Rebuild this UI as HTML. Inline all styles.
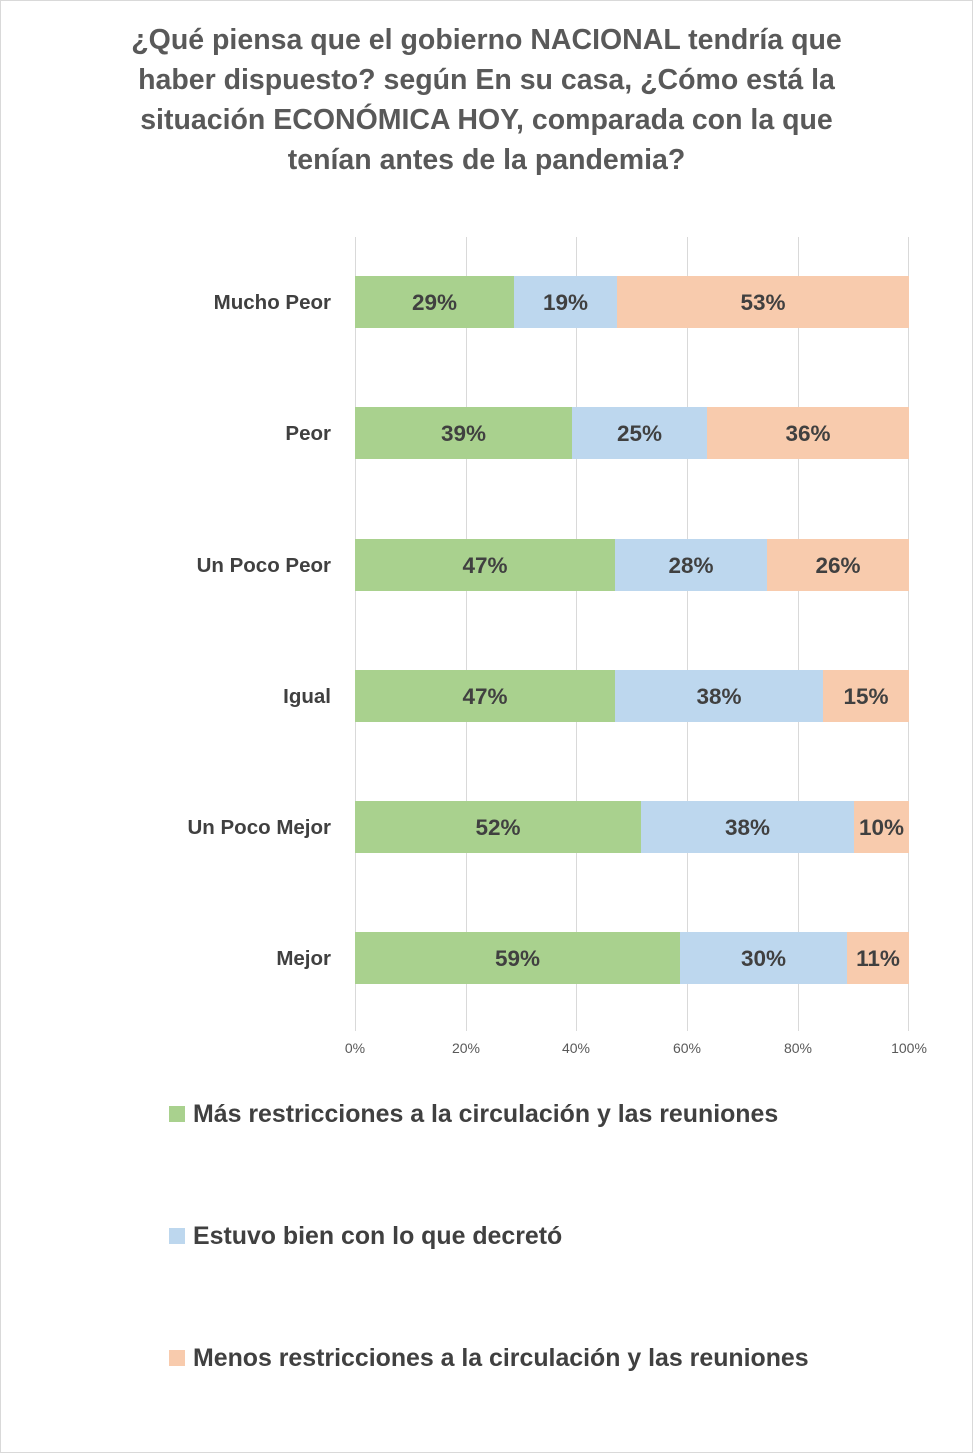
<!DOCTYPE html>
<html><head><meta charset="utf-8"><style>
body{margin:0;width:973px;height:1453px;background:#fff;position:relative;overflow:hidden;font-family:"Liberation Sans",sans-serif}
.frame{position:absolute;left:0;top:0;width:971px;height:1451px;border:1px solid #d9d9d9}
.t{position:absolute;left:0;width:973px;text-align:center;color:#595959;font-weight:bold;font-size:28.5px;line-height:40px;top:20px;white-space:nowrap}
.g{position:absolute;top:237px;height:794px;width:1px;background:#d9d9d9}
.tk{position:absolute;top:1040px;width:60px;margin-left:-30px;text-align:center;font-size:14px;color:#595959}
.cat{position:absolute;right:642px;font-weight:bold;font-size:20.5px;color:#404040;line-height:54px}
.b{position:absolute;height:52px;line-height:54px;text-align:center;font-weight:bold;font-size:22.5px;color:#404040}
.G{background:#a9d18e}.B{background:#bdd7ee}.O{background:#f8cbad}
.lg{position:absolute;left:169px;width:16px;height:16px}
.lt{position:absolute;left:193px;font-weight:bold;font-size:24.9px;color:#404040;line-height:30px}
</style></head><body>
<div class="frame"></div>
<div class="t">¿Qué piensa que el gobierno NACIONAL tendría que<br>haber dispuesto? según En su casa, ¿Cómo está la<br>situación ECONÓMICA HOY, comparada con la que<br>tenían antes de la pandemia?</div>
<div class="g" style="left:355px"></div><div class="g" style="left:466px"></div><div class="g" style="left:576px"></div><div class="g" style="left:687px"></div><div class="g" style="left:798px"></div><div class="g" style="left:908px"></div>
<div class="tk" style="left:355px">0%</div><div class="tk" style="left:466px">20%</div><div class="tk" style="left:576px">40%</div><div class="tk" style="left:687px">60%</div><div class="tk" style="left:798px">80%</div><div class="tk" style="left:909px">100%</div>

<div class="cat" style="top:276px">Mucho Peor</div>
<div class="b G" style="top:276px;left:355px;width:159px">29%</div><div class="b B" style="top:276px;left:514px;width:103px">19%</div><div class="b O" style="top:276px;left:617px;width:292px">53%</div>

<div class="cat" style="top:407px">Peor</div>
<div class="b G" style="top:407px;left:355px;width:217px">39%</div><div class="b B" style="top:407px;left:572px;width:135px">25%</div><div class="b O" style="top:407px;left:707px;width:202px">36%</div>

<div class="cat" style="top:539px">Un Poco Peor</div>
<div class="b G" style="top:539px;left:355px;width:260px">47%</div><div class="b B" style="top:539px;left:615px;width:152px">28%</div><div class="b O" style="top:539px;left:767px;width:142px">26%</div>

<div class="cat" style="top:670px">Igual</div>
<div class="b G" style="top:670px;left:355px;width:260px">47%</div><div class="b B" style="top:670px;left:615px;width:208px">38%</div><div class="b O" style="top:670px;left:823px;width:86px">15%</div>

<div class="cat" style="top:801px">Un Poco Mejor</div>
<div class="b G" style="top:801px;left:355px;width:286px">52%</div><div class="b B" style="top:801px;left:641px;width:213px">38%</div><div class="b O" style="top:801px;left:854px;width:55px">10%</div>

<div class="cat" style="top:932px">Mejor</div>
<div class="b G" style="top:932px;left:355px;width:325px">59%</div><div class="b B" style="top:932px;left:680px;width:167px">30%</div><div class="b O" style="top:932px;left:847px;width:62px">11%</div>

<div class="lg G" style="top:1106px"></div><div class="lt" style="top:1099px">Más restricciones a la circulación y las reuniones</div>
<div class="lg B" style="top:1228px"></div><div class="lt" style="top:1221px">Estuvo bien con lo que decretó</div>
<div class="lg O" style="top:1350px"></div><div class="lt" style="top:1343px">Menos restricciones a la circulación y las reuniones</div>
</body></html>
